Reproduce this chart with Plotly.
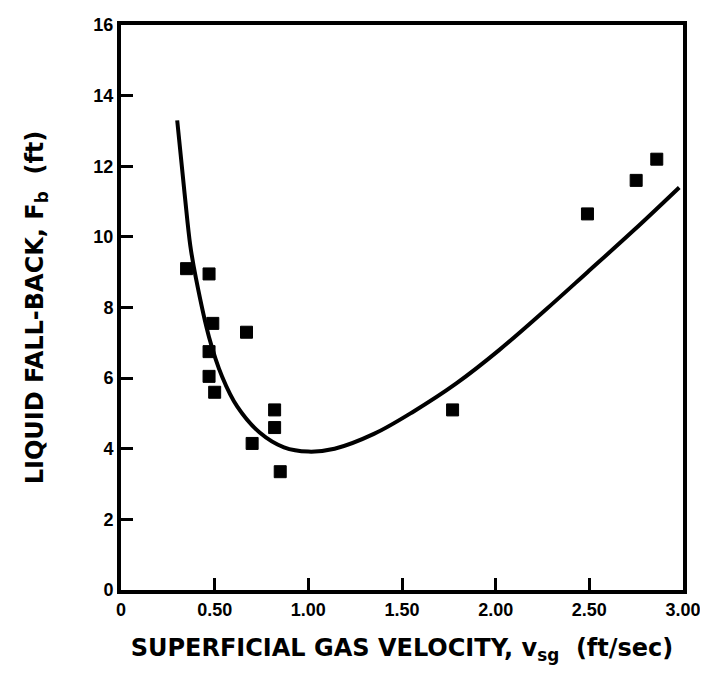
import plotly.graph_objects as go

vsg_pts = [0.35, 0.47, 0.49, 0.67, 0.47, 0.47, 0.50, 0.82, 0.82, 0.70, 0.85, 1.77, 2.49, 2.75, 2.86]
fb_pts = [9.1, 8.95, 7.55, 7.3, 6.75, 6.05, 5.6, 5.1, 4.6, 4.15, 3.35, 5.1, 10.65, 11.6, 12.2]

# fitted curve (traced)
vsg_curve = [0.30, 0.34, 0.37, 0.40, 0.47, 0.54, 0.62, 0.74, 0.87, 1.00, 1.14, 1.35,
             1.56, 1.79, 2.02, 2.27, 2.49, 2.74, 2.98]
fb_curve = [13.3, 11.2, 9.75, 8.83, 7.16, 6.04, 5.2, 4.46, 4.04, 3.92, 4.0, 4.42,
            5.05, 5.85, 6.8, 7.95, 9.0, 10.2, 11.4]

x_ticks = [0, 0.5, 1.0, 1.5, 2.0, 2.5, 3.0]
x_labels = ["0", "0.50", "1.00", "1.50", "2.00", "2.50", "3.00"]
y_ticks = [0, 2, 4, 6, 8, 10, 12, 14, 16]

font = "Liberation Sans, Arial, sans-serif"
title_font = "DejaVu Sans, sans-serif"

fig = go.Figure()

fig.add_trace(go.Scatter(
    x=vsg_curve, y=fb_curve, mode="lines",
    line=dict(color="black", width=4, shape="spline", smoothing=1.0),
    showlegend=False
))

fig.add_trace(go.Scatter(
    x=vsg_pts, y=fb_pts, mode="markers",
    marker=dict(symbol="square", size=12, color="black",
                line=dict(color="black", width=1)),
    showlegend=False
))

fig.update_xaxes(
    range=[0, 3.0], tickvals=x_ticks, ticktext=x_labels,
    ticks="inside", ticklen=12, tickwidth=3, tickcolor="black",
    showline=True, linewidth=4, linecolor="black", mirror=True,
    showgrid=False, zeroline=False,
    tickfont=dict(family=font, size=18, color="black", weight="bold"),
    title=dict(text="SUPERFICIAL GAS VELOCITY, v<sub>sg</sub>  (ft/sec)",
               font=dict(family=title_font, size=24, color="black", weight="bold"),
               standoff=22)
)

fig.update_yaxes(
    range=[0, 16], tickvals=y_ticks,
    ticks="inside", ticklen=12, tickwidth=3, tickcolor="black",
    showline=True, linewidth=4, linecolor="black", mirror=True,
    showgrid=False, zeroline=False,
    tickfont=dict(family=font, size=18, color="black", weight="bold"),
    title=dict(text="LIQUID FALL-BACK, F<sub>b</sub>  (ft)",
               font=dict(family=title_font, size=24, color="black", weight="bold"),
               standoff=44)
)

fig.update_layout(
    width=700, height=667,
    margin=dict(l=113, r=25, t=7, b=85),
    plot_bgcolor="white", paper_bgcolor="white"
)

fig.write_html("out.html")
